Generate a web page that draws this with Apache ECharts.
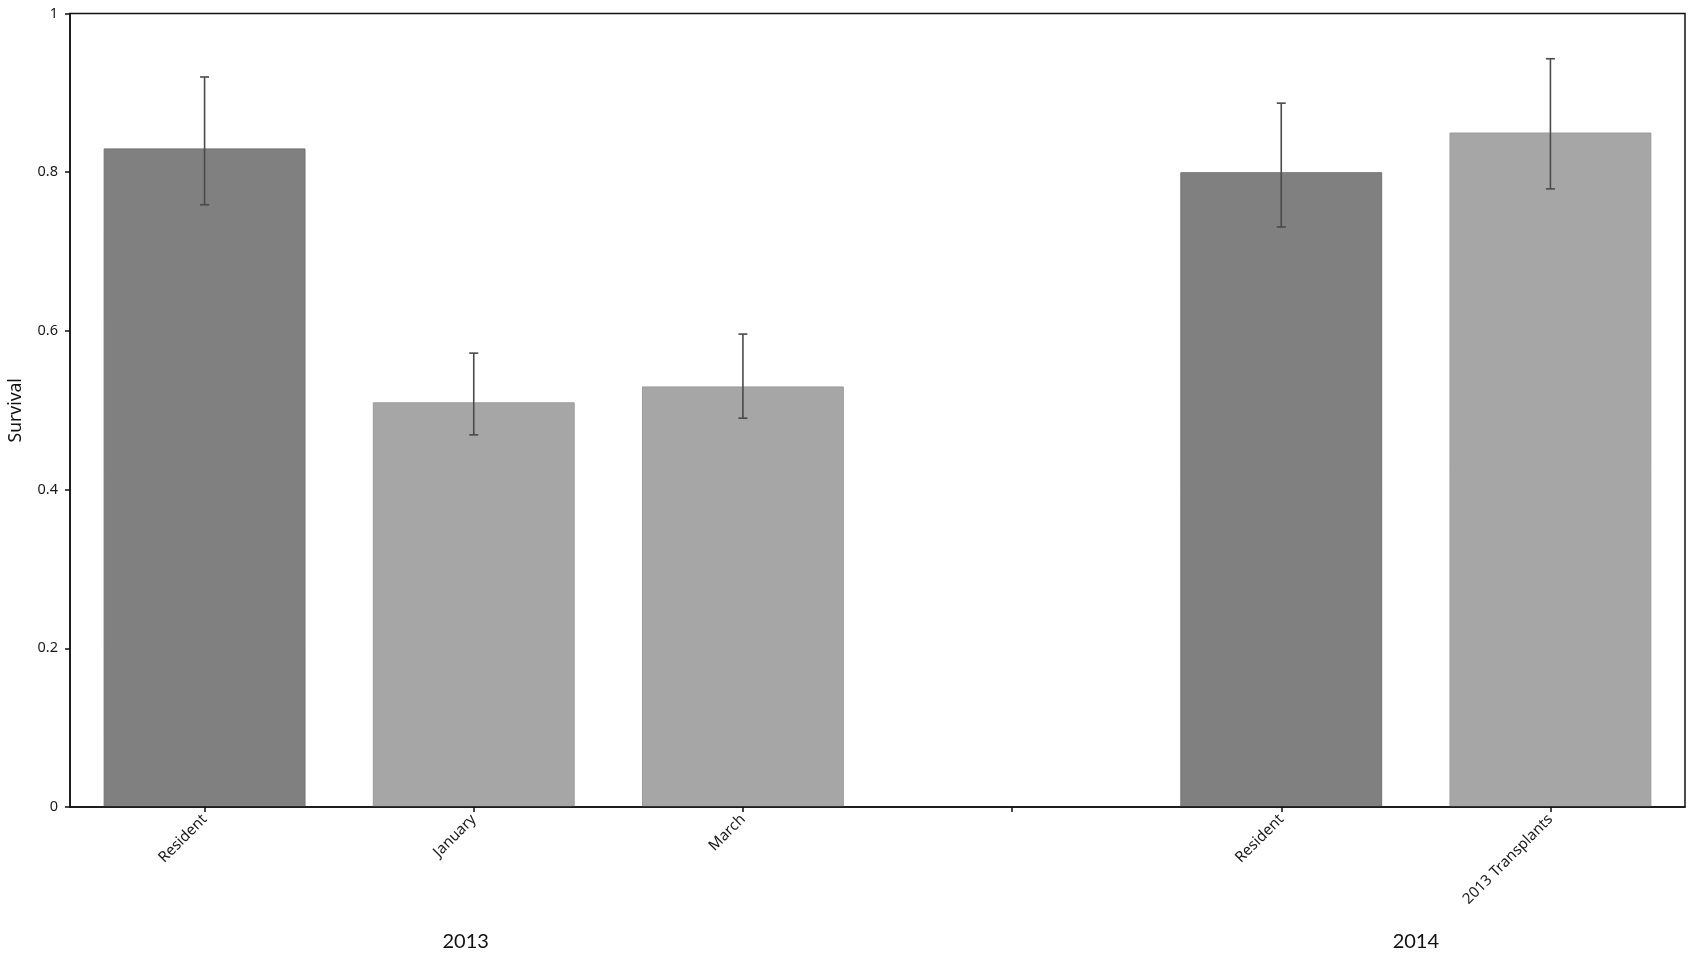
<!DOCTYPE html>
<html>
<head>
<meta charset="utf-8">
<script src="https://cdn.jsdelivr.net/npm/echarts@6/dist/echarts.min.js"></script>
<style>
html,body{margin:0;padding:0;background:#fff;}
#chart{width:1693px;height:956px;}
</style>
</head>
<body>
<div id="chart"></div>
<script>
// ---- data ----
const categories = ['Resident', 'January', 'March', '', 'Resident', '2013 Transplants'];
const groupKind = ['resident', 'transplant', 'transplant', null, 'resident', 'transplant'];
const survival = [0.83, 0.51, 0.53, null, 0.80, 0.85];
const errLow = [0.759, 0.469, 0.490, null, 0.731, 0.779];
const errHigh = [0.920, 0.572, 0.596, null, 0.887, 0.943];
const yTicks = [0, 0.2, 0.4, 0.6, 0.8, 1];
const years = ['2013', '2014'];
const yearCenter = [1.47, 5.0]; // in category units along the axis

const kindColor = { resident: '#808080', transplant: '#a6a6a6' };
const kindBorder = { resident: '#747474', transplant: '#9a9a9a' };

const chart = echarts.init(document.getElementById('chart'));
const font = '"Noto Sans", sans-serif';

const barData = survival.map((v, i) => v == null ? null : ({
  value: v,
  itemStyle: { color: kindColor[groupKind[i]], borderColor: kindBorder[groupKind[i]], borderWidth: 1 }
}));
const errData = [];
errLow.forEach((lo, i) => { if (lo != null) errData.push([i, lo, errHigh[i]]); });

chart.setOption({
  animation: false,
  backgroundColor: '#fff',
  grid: { left: 70, right: 8, top: 13.5, bottom: 149, show: true, borderColor: '#111', borderWidth: 1.5, backgroundColor: 'transparent', outerBoundsMode: 'none' },
  xAxis: [{
    type: 'category',
    data: categories,
    z: 10,
    axisLine: { show: true, lineStyle: { color: '#111', width: 1.5 } },
    axisTick: { show: true, alignWithLabel: true, interval: 0, length: 5, inside: false, lineStyle: { color: '#111', width: 1.5 } },
    axisLabel: { interval: 0, rotate: 45, color: '#1a1a1a', fontSize: 15, fontFamily: font, margin: 10 }
  }, {
    type: 'value', min: 0, max: 6, show: false, position: 'bottom'
  }],
  yAxis: {
    type: 'value', min: yTicks[0], max: yTicks[yTicks.length - 1], interval: 0.2,
    name: 'Survival', nameLocation: 'middle', nameGap: 45,
    nameTextStyle: { color: '#111', fontSize: 17.5, fontFamily: font },
    axisLine: { show: true, lineStyle: { color: '#111', width: 1.5 } },
    axisTick: { show: true, length: 5, lineStyle: { color: '#111', width: 1.5 } },
    splitLine: { show: false },
    axisLabel: { color: '#1a1a1a', fontSize: 14.5, fontFamily: font, margin: 12 }
  },
  series: [{
    type: 'bar',
    data: barData,
    barWidth: '75%',
    xAxisIndex: 0
  }, {
    type: 'custom',
    xAxisIndex: 0,
    data: errData,
    z: 5,
    renderItem: function (params, api) {
      const x = api.value(0);
      const lo = api.coord([x, api.value(1)]);
      const hi = api.coord([x, api.value(2)]);
      const half = 4.5;
      const st = { stroke: '#4a4a4a', lineWidth: 1.6 };
      return {
        type: 'group',
        children: [
          { type: 'line', shape: { x1: lo[0], y1: lo[1], x2: hi[0], y2: hi[1] }, style: st },
          { type: 'line', shape: { x1: hi[0] - half, y1: hi[1], x2: hi[0] + half, y2: hi[1] }, style: st },
          { type: 'line', shape: { x1: lo[0] - half, y1: lo[1], x2: lo[0] + half, y2: lo[1] }, style: st }
        ]
      };
    }
  }]
});

const yBottom = chart.convertToPixel({ yAxisIndex: 0 }, 0);
chart.setOption({
  graphic: years.map((t, i) => ({
    type: 'text',
    x: chart.convertToPixel({ xAxisIndex: 1 }, yearCenter[i]),
    y: yBottom + 135,
    style: { text: t, fill: '#111', fontSize: 20, fontFamily: 'Lato, "Noto Sans", sans-serif', align: 'center', verticalAlign: 'middle' }
  }))
});
</script>
</body>
</html>
